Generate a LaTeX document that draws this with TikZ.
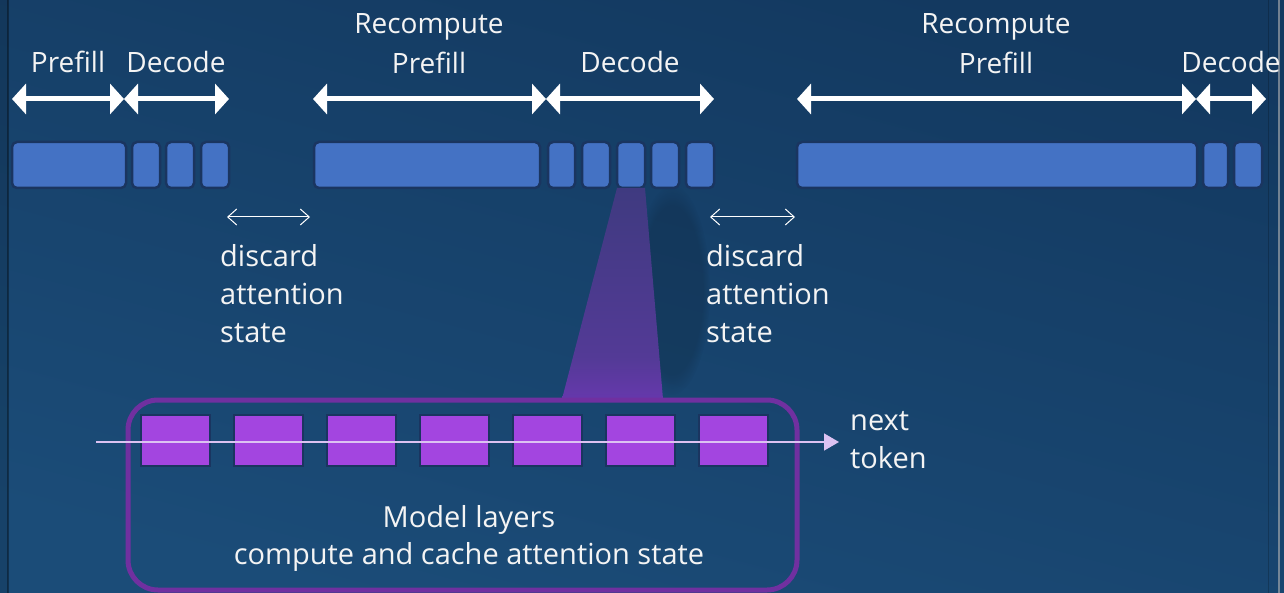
\documentclass[tikz,border=0pt]{standalone}
\usepackage{fontspec}
\setmainfont{Open Sans}
\usetikzlibrary{arrows.meta,fadings}
\definecolor{bgtop}{HTML}{133960}
\definecolor{bgbot}{HTML}{1B4C78}
\definecolor{barfill}{HTML}{4472C4}
\definecolor{barline}{HTML}{1A3560}
\definecolor{layerfill}{HTML}{A345E0}
\definecolor{boxline}{HTML}{7030A0}
\definecolor{flowline}{HTML}{DCC2F2}
\definecolor{txt}{HTML}{F4F4F4}
\definecolor{beamA}{HTML}{9C38E4}
\definecolor{beamB}{HTML}{7E36C8}
\definecolor{beamC}{HTML}{533A96}
\definecolor{beamD}{HTML}{3F3A80}
\definecolor{beamE}{HTML}{383670}
\pgfdeclareverticalshading{beam}{100bp}{
  color(0bp)=(beamA);
  color(12bp)=(beamB);
  color(35bp)=(beamC);
  color(75bp)=(beamD);
  color(100bp)=(beamE)}
\tikzset{
  bar/.style={draw=barline, fill=barfill, line width=2.5pt, rounded corners=5pt,
    minimum height=46pt, anchor=north west, inner sep=0pt, outer sep=0pt},
  layer/.style={draw=barline, fill=layerfill, line width=2.5pt,
    minimum width=69pt, minimum height=51pt, anchor=north west, inner sep=0pt, outer sep=0pt},
  span/.style={draw=white, line width=5pt,
    {Triangle[length=14pt,width=30pt]}-{Triangle[length=14pt,width=30pt]}},
  thin/.style={draw=white, line width=1pt,
    {Straight Barb[length=9pt,width=16pt]}-{Straight Barb[length=9pt,width=16pt]}},
  lbl/.style={text=txt, font=\fontsize{28}{40}\selectfont, inner sep=0pt, align=center},
  mlbl/.style={text=txt, font=\fontsize{29}{37}\selectfont, inner sep=0pt, align=center},
  note/.style={text=txt, font=\fontsize{29}{38}\selectfont, inner sep=0pt, align=left, anchor=north west},
}
\begin{document}
\begin{tikzpicture}[x=1pt,y=-1pt]
\useasboundingbox (0,0) rectangle (1284,593);
% background
\shade[top color=bgtop, bottom color=bgbot, shading angle=-15] (0,0) rectangle (1284,593);
\fill[black, opacity=0.12] (0,0) rectangle (8,593);
\draw[black, opacity=0.35, line width=1.5pt] (8,0) -- (8,593);
\draw[gray!60, opacity=0.6, line width=1.5pt] (1279,0) -- (1279,593);
\draw[black, opacity=0.2, line width=1pt] (1268,0) -- (1268,593);

% soft shadow next to the beam
\fill[black, opacity=0.13, path fading=circle with fuzzy edge 20 percent] (672,290) ellipse (38pt and 105pt);

% top row bars
\node[bar, minimum width=114pt] (p1) at (12,142) {};
\node[bar, minimum width=28pt] (d1) at (132,142) {};
\node[bar, minimum width=28pt] (d2) at (166,142) {};
\node[bar, minimum width=28pt] (d3) at (201,142) {};
\node[bar, minimum width=226pt] (r1) at (314,142) {};
\node[bar, minimum width=27pt] (e1) at (548,142) {};
\node[bar, minimum width=28pt] (e2) at (582,142) {};
\node[bar, minimum width=28pt] (e3) at (617,142) {};
\node[bar, minimum width=28pt] (e4) at (651,142) {};
\node[bar, minimum width=28pt] (e5) at (686,142) {};
\node[bar, minimum width=400pt] (r2) at (797,142) {};
\node[bar, minimum width=25pt] (f1) at (1203,142) {};
\node[bar, minimum width=28pt] (f2) at (1234,142) {};

% span arrows
\coordinate (a0) at (12,99);
\coordinate (a1) at (124,99);
\coordinate (a2) at (229,99);
\coordinate (b0) at (313,99);
\coordinate (b1) at (546,99);
\coordinate (b2) at (714,99);
\coordinate (c0) at (797,99);
\coordinate (c1) at (1196,99);
\coordinate (c2) at (1266,99);
\draw[span] (a0) -- (a1);
\draw[span] (a1) -- (a2);
\draw[span] (b0) -- (b1);
\draw[span] (b1) -- (b2);
\draw[span] (c0) -- (c1);
\draw[span] (c1) -- (c2);

% span labels
\node[lbl] (tp1) at (68,62) {Prefill};
\node[lbl] (td1) at (176,62) {Decode};
\node[lbl] (tr1) at (429,44) {Recompute\\Prefill};
\node[lbl] (td2) at (630,62) {Decode};
\node[lbl] (tr2) at (996,44) {Recompute\\Prefill};
\node[lbl] (td3) at (1231,62) {Decode};

% discard arrows
\coordinate (g0) at (227,217);
\coordinate (g1) at (310,217);
\coordinate (h0) at (710,217);
\coordinate (h1) at (795,217);
\draw[thin] (g0) -- (g1);
\draw[thin] (h0) -- (h1);
\node[note] (n1) at (220,244) {discard\\attention\\state};
\node[note] (n2) at (706,244) {discard\\attention\\state};

% beam from a decode step to the model
\coordinate (bl) at (562,399);
\coordinate (br) at (663,399);
\shade[shading=beam] (e3.south west) -- (e3.south east) -- (br) -- (bl) -- cycle;

% model box
\draw[draw=boxline, line width=5pt, rounded corners=30pt] (128,400) rectangle (797,590);

% layers
\foreach \i in {0,...,6}{
  \node[layer] (L\i) at (141+93*\i,415) {};
}
\coordinate (in) at (96,442);
\coordinate (out) at (839,442);
\draw[flowline, line width=1.5pt, -{Triangle[length=15pt,width=17pt]}] (in) -- (out);
\node[note] (nt) at (850,411) {next\\token};

\node[mlbl] (ml) at (469,538) {Model layers\\compute and cache attention state};
\end{tikzpicture}
\end{document}
